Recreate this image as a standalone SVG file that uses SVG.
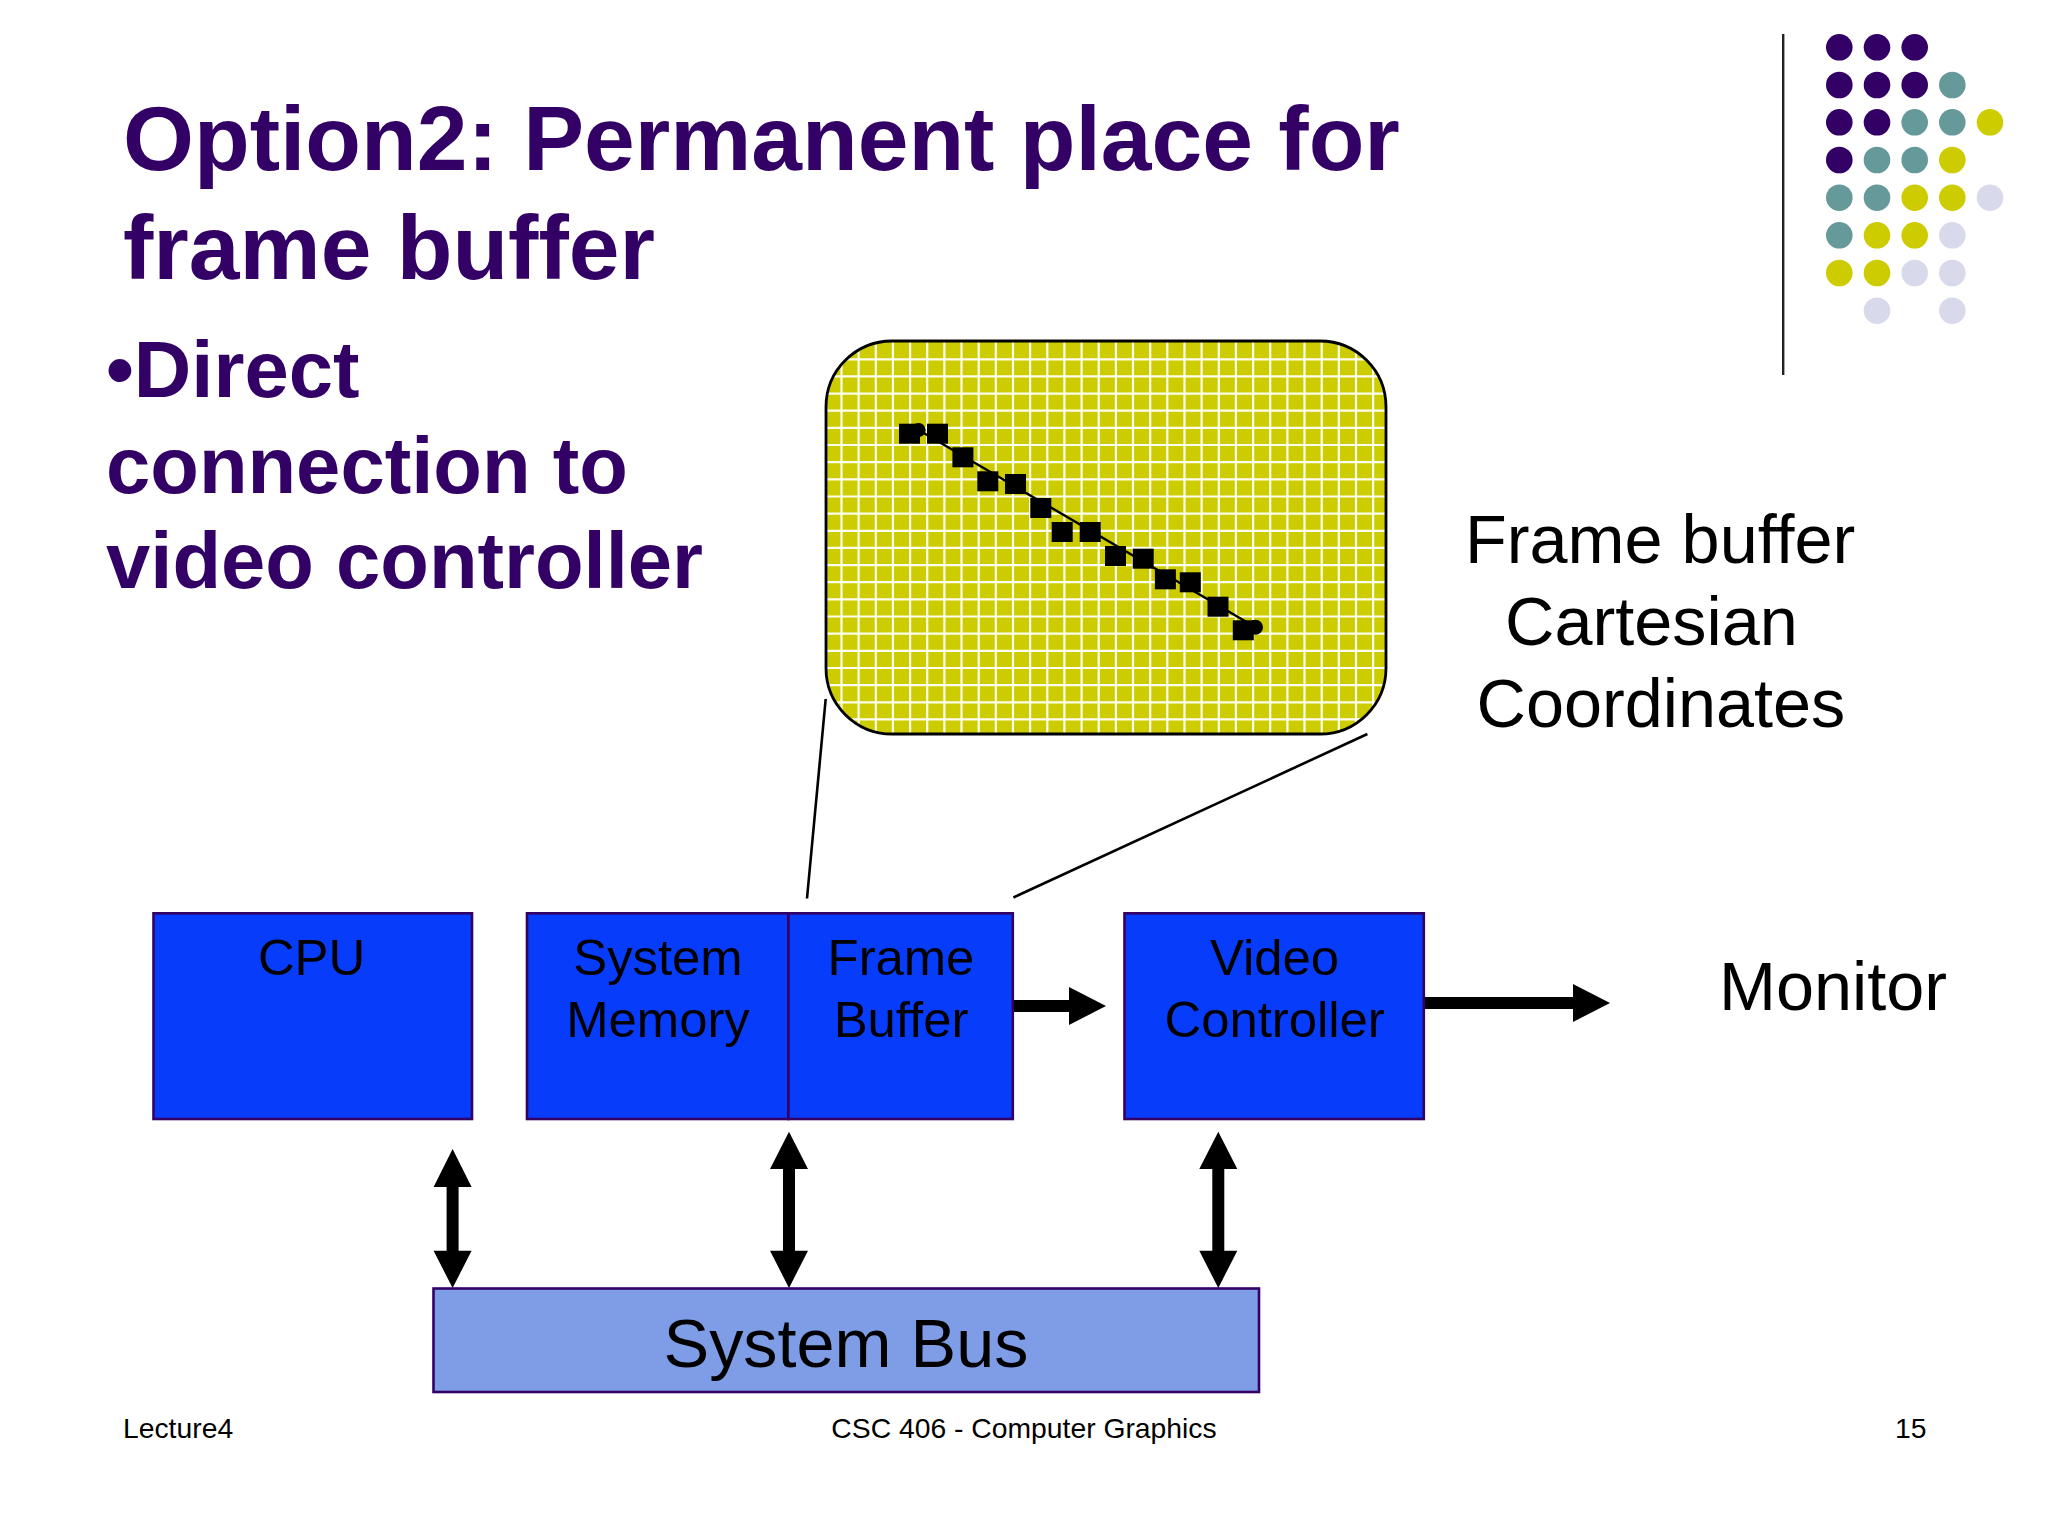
<svg xmlns="http://www.w3.org/2000/svg" width="2048" height="1536" viewBox="0 0 2048 1536">
<style>
text{font-family:"Liberation Sans",Arial,sans-serif;fill:#000}
.h{font-weight:700;fill:#330066}
.t{font-size:91.2px}.b{font-size:79.6px}
.l{font-size:68.4px}.n{font-size:50.8px;text-anchor:middle}
.f{font-size:28.3px}
.box{fill:#073cfa;stroke:#330066;stroke-width:2.6}
.bus{fill:#7f9de6;stroke:#330066;stroke-width:2.6}
.p{fill:#330066}.g{fill:#669999}.y{fill:#cccc00}.v{fill:#d9d9ec}
.s{fill:#000}
.grid{stroke:#fefef0;stroke-width:2.2;fill:none}
.ptr{stroke:#000;stroke-width:2.6;fill:none}
</style>
<defs>
<clipPath id="rr"><rect x="826" y="341" width="560" height="393" rx="66" ry="66"/></clipPath>
</defs>
<rect width="2048" height="1536" fill="#fff"/>
<g id="title">
<text class="h t" x="123" y="170">Option2: Permanent place for</text>
<text class="h t" x="123" y="279">frame buffer</text>
</g>
<g id="bullet">
<text class="h b" x="106" y="396.5">•Direct</text>
<text class="h b" x="106" y="493">connection to</text>
<text class="h b" x="106" y="588">video controller</text>
</g>
<g id="decor">
<rect x="1782" y="34" width="2.4" height="341" fill="#222"/>
<g class="p"><circle cx="1839.3" cy="47.3" r="13.3"/><circle cx="1877" cy="47.3" r="13.3"/><circle cx="1914.7" cy="47.3" r="13.3"/><circle cx="1839.3" cy="85" r="13.3"/><circle cx="1877" cy="85" r="13.3"/><circle cx="1914.7" cy="85" r="13.3"/><circle cx="1839.3" cy="122.3" r="13.3"/><circle cx="1877" cy="122.3" r="13.3"/><circle cx="1839.3" cy="160" r="13.3"/></g>
<g class="g"><circle cx="1952.3" cy="85" r="13.3"/><circle cx="1914.7" cy="122.3" r="13.3"/><circle cx="1952.3" cy="122.3" r="13.3"/><circle cx="1877" cy="160" r="13.3"/><circle cx="1914.7" cy="160" r="13.3"/><circle cx="1839.3" cy="197.7" r="13.3"/><circle cx="1877" cy="197.7" r="13.3"/><circle cx="1839.3" cy="235.3" r="13.3"/></g>
<g class="y"><circle cx="1990" cy="122.3" r="13.3"/><circle cx="1952.3" cy="160" r="13.3"/><circle cx="1914.7" cy="197.7" r="13.3"/><circle cx="1952.3" cy="197.7" r="13.3"/><circle cx="1877" cy="235.3" r="13.3"/><circle cx="1914.7" cy="235.3" r="13.3"/><circle cx="1839.3" cy="273" r="13.3"/><circle cx="1877" cy="273" r="13.3"/></g>
<g class="v"><circle cx="1990" cy="197.7" r="13.3"/><circle cx="1952.3" cy="235.3" r="13.3"/><circle cx="1914.7" cy="273" r="13.3"/><circle cx="1952.3" cy="273" r="13.3"/><circle cx="1877" cy="310.7" r="13.3"/><circle cx="1952.3" cy="310.7" r="13.3"/></g>
</g>
<g id="framebuffer-view">
<rect x="826" y="341" width="560" height="393" rx="66" ry="66" fill="#cccc00"/>
<g clip-path="url(#rr)">
<path class="grid" d="M841.5 341V734M858.6 341V734M875.8 341V734M892.9 341V734M910.1 341V734M927.2 341V734M944.4 341V734M961.5 341V734M978.7 341V734M995.8 341V734M1013 341V734M1030.1 341V734M1047.3 341V734M1064.4 341V734M1081.6 341V734M1098.7 341V734M1115.9 341V734M1133 341V734M1150.2 341V734M1167.3 341V734M1184.5 341V734M1201.6 341V734M1218.8 341V734M1235.9 341V734M1253.1 341V734M1270.2 341V734M1287.4 341V734M1304.5 341V734M1321.7 341V734M1338.8 341V734M1356 341V734M1373.1 341V734"/>
<path class="grid" d="M826 359.3H1386M826 376.4H1386M826 393.6H1386M826 410.7H1386M826 427.9H1386M826 445H1386M826 462.2H1386M826 479.3H1386M826 496.5H1386M826 513.6H1386M826 530.8H1386M826 547.9H1386M826 565.1H1386M826 582.2H1386M826 599.4H1386M826 616.5H1386M826 633.7H1386M826 650.8H1386M826 668H1386M826 685.1H1386M826 702.3H1386M826 719.4H1386"/>
</g>
<rect x="826" y="341" width="560" height="393" rx="66" ry="66" fill="none" stroke="#000" stroke-width="2.8"/>
<path d="M918.6 430L1255.5 627.3" stroke="#000" stroke-width="2.4"/>
<circle cx="918.6" cy="430" r="7"/><circle cx="1255.5" cy="627.3" r="7.5"/>
<g class="s">
<rect x="899" y="423.7" width="21" height="20"/><rect x="927" y="423.7" width="21" height="20"/><rect x="952.4" y="447.3" width="21" height="20"/><rect x="977.3" y="471.3" width="21" height="20"/><rect x="1005" y="474" width="21" height="20"/><rect x="1030.3" y="498" width="21" height="20"/><rect x="1051.7" y="522" width="21" height="20"/><rect x="1079.7" y="522" width="21" height="20"/><rect x="1105" y="546" width="21" height="20"/><rect x="1132.7" y="548.7" width="21" height="20"/><rect x="1154.9" y="569.3" width="21" height="20"/><rect x="1179.8" y="572.3" width="21" height="20"/><rect x="1207.5" y="596.7" width="21" height="20"/><rect x="1232.8" y="620.3" width="21" height="20"/>
</g>
</g>
<g id="frame-label">
<text class="l" x="1465" y="563">Frame buffer</text>
<text class="l" x="1505" y="645">Cartesian</text>
<text class="l" x="1476.5" y="727">Coordinates</text>
</g>
<g id="connectors">
<path class="ptr" d="M825.7 699L807 898.5"/>
<path class="ptr" d="M1367.4 734L1013.4 897.5"/>
<path d="M1013.5 1000H1069V987L1106 1006L1069 1025V1012H1013.5Z"/>
<path d="M1424.5 997H1573V984L1610 1003L1573 1022V1009H1424.5Z"/>
<path d="M452.6 1149L471.6 1187H458.6V1250.7H471.6L452.6 1288L433.6 1250.7H446.6V1187H433.6Z"/>
<path d="M789 1131.7L808 1169H795V1250.7H808L789 1288L770 1250.7H783V1169H770Z"/>
<path d="M1218.3 1131.7L1237.3 1169H1224.3V1250.7H1237.3L1218.3 1288L1199.3 1250.7H1212.3V1169H1199.3Z"/>
</g>
<g id="cpu">
<rect class="box" x="153.5" y="913.3" width="318.5" height="205.7"/>
<text class="n" x="311.5" y="975">CPU</text>
</g>
<g id="system-memory">
<rect class="box" x="527" y="913.3" width="261.4" height="205.7"/>
<text class="n" x="658" y="975">System</text>
<text class="n" x="658" y="1036.5">Memory</text>
</g>
<g id="frame-buffer">
<rect class="box" x="788.4" y="913.3" width="224.4" height="205.7"/>
<text class="n" x="901" y="975">Frame</text>
<text class="n" x="901" y="1036.5">Buffer</text>
</g>
<g id="video-controller">
<rect class="box" x="1124.5" y="913.3" width="299.3" height="205.7"/>
<text class="n" x="1274.6" y="975">Video</text>
<text class="n" x="1274.6" y="1036.5">Controller</text>
</g>
<g id="system-bus">
<rect class="bus" x="433.5" y="1288.5" width="825.5" height="103.5"/>
<text class="l" x="846" y="1367" text-anchor="middle">System Bus</text>
</g>
<g id="monitor"><text class="l" x="1719" y="1010">Monitor</text></g>
<g id="footer">
<text class="f" x="123" y="1438">Lecture4</text>
<text class="f" x="1024" y="1438" text-anchor="middle">CSC 406 - Computer Graphics</text>
<text class="f" x="1895" y="1438">15</text>
</g>
</svg>
